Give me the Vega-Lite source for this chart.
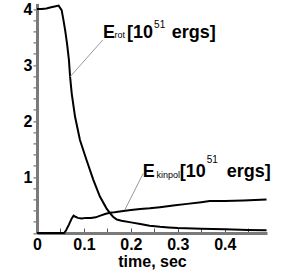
{
  "$schema": "https://vega.github.io/schema/vega-lite/v6.json",
  "width": 230,
  "height": 229.6,
  "autosize": {"type": "none"},
  "padding": {"left": 37, "top": 3.4, "right": 18, "bottom": 38},
  "config": {"view": {"stroke": null}, "font": "Liberation Sans"},
  "datasets": {
    "curves": [
      {"series": "rot", "t": 0, "v": 4.0},
      {"series": "rot", "t": 0.01, "v": 4.0},
      {"series": "rot", "t": 0.02, "v": 4.01},
      {"series": "rot", "t": 0.03, "v": 4.03},
      {"series": "rot", "t": 0.04, "v": 4.05},
      {"series": "rot", "t": 0.046, "v": 4.06},
      {"series": "rot", "t": 0.0525, "v": 3.98},
      {"series": "rot", "t": 0.056, "v": 3.82},
      {"series": "rot", "t": 0.06, "v": 3.62},
      {"series": "rot", "t": 0.064, "v": 3.38},
      {"series": "rot", "t": 0.068, "v": 3.09},
      {"series": "rot", "t": 0.0705, "v": 2.79},
      {"series": "rot", "t": 0.074, "v": 2.49},
      {"series": "rot", "t": 0.081, "v": 2.08},
      {"series": "rot", "t": 0.0915, "v": 1.66},
      {"series": "rot", "t": 0.1057, "v": 1.3},
      {"series": "rot", "t": 0.12, "v": 0.95},
      {"series": "rot", "t": 0.134, "v": 0.65},
      {"series": "rot", "t": 0.148, "v": 0.44},
      {"series": "rot", "t": 0.155, "v": 0.36},
      {"series": "rot", "t": 0.162, "v": 0.29},
      {"series": "rot", "t": 0.17, "v": 0.24},
      {"series": "rot", "t": 0.18, "v": 0.22},
      {"series": "rot", "t": 0.2, "v": 0.19},
      {"series": "rot", "t": 0.22, "v": 0.16},
      {"series": "rot", "t": 0.24, "v": 0.13},
      {"series": "rot", "t": 0.262, "v": 0.11},
      {"series": "rot", "t": 0.28, "v": 0.1},
      {"series": "rot", "t": 0.3, "v": 0.09},
      {"series": "rot", "t": 0.35, "v": 0.075},
      {"series": "rot", "t": 0.4, "v": 0.065},
      {"series": "rot", "t": 0.45, "v": 0.055},
      {"series": "rot", "t": 0.489, "v": 0.05},
      {"series": "kin", "t": 0, "v": 0},
      {"series": "kin", "t": 0.05, "v": 0},
      {"series": "kin", "t": 0.058, "v": 0.0},
      {"series": "kin", "t": 0.062, "v": 0.05},
      {"series": "kin", "t": 0.068, "v": 0.15},
      {"series": "kin", "t": 0.074, "v": 0.26},
      {"series": "kin", "t": 0.078, "v": 0.31},
      {"series": "kin", "t": 0.082, "v": 0.29},
      {"series": "kin", "t": 0.087, "v": 0.27},
      {"series": "kin", "t": 0.095, "v": 0.26},
      {"series": "kin", "t": 0.105, "v": 0.27},
      {"series": "kin", "t": 0.115, "v": 0.27},
      {"series": "kin", "t": 0.125, "v": 0.28},
      {"series": "kin", "t": 0.135, "v": 0.31},
      {"series": "kin", "t": 0.145, "v": 0.34},
      {"series": "kin", "t": 0.155, "v": 0.36},
      {"series": "kin", "t": 0.165, "v": 0.37},
      {"series": "kin", "t": 0.18, "v": 0.39},
      {"series": "kin", "t": 0.2, "v": 0.41},
      {"series": "kin", "t": 0.22, "v": 0.43},
      {"series": "kin", "t": 0.24, "v": 0.44},
      {"series": "kin", "t": 0.262, "v": 0.46},
      {"series": "kin", "t": 0.29, "v": 0.49},
      {"series": "kin", "t": 0.32, "v": 0.52},
      {"series": "kin", "t": 0.35, "v": 0.55},
      {"series": "kin", "t": 0.368, "v": 0.57},
      {"series": "kin", "t": 0.4, "v": 0.57},
      {"series": "kin", "t": 0.44, "v": 0.58},
      {"series": "kin", "t": 0.489, "v": 0.6}
    ],
    "leaders": [
      {"id": "rot", "t": 0.0705, "v": 2.79},
      {"id": "rot", "t": 0.1405, "v": 3.45},
      {"id": "kin", "t": 0.187, "v": 0.41},
      {"id": "kin", "t": 0.226, "v": 1.06}
    ],
    "labels": [
      {"part": "main", "text": "E", "t": 0.1404, "v": 3.477},
      {"part": "sub", "text": "rot", "t": 0.1649, "v": 3.477},
      {"part": "main", "text": "[10", "t": 0.1915, "v": 3.477},
      {"part": "sup", "text": "51", "t": 0.2495, "v": 3.655},
      {"part": "main", "text": "ergs]", "t": 0.2872, "v": 3.477},
      {"part": "main", "text": "E", "t": 0.2255, "v": 1.005},
      {"part": "sub", "text": "kinpol", "t": 0.2547, "v": 0.977},
      {"part": "main", "text": "[10", "t": 0.3043, "v": 1.005},
      {"part": "sup", "text": "51", "t": 0.3617, "v": 1.25},
      {"part": "main", "text": "ergs]", "t": 0.4043, "v": 1.005}
    ]
  },
  "layer": [
    {
      "data": {"name": "curves"},
      "mark": {"type": "line", "color": "black", "strokeWidth": 2},
      "encoding": {
        "x": {
          "field": "t", "type": "quantitative",
          "scale": {"domain": [0, 0.49], "nice": false, "zero": false},
          "axis": {
            "values": [0, 0.05, 0.1, 0.15, 0.2, 0.25, 0.3, 0.35, 0.4, 0.45],
            "tickCount": 100,
            "labelExpr": "indexof([0, 0.1, 0.2, 0.3, 0.4], datum.value) >= 0 ? format(datum.value, '~g') : ''",
            "labelOverlap": false,
            "grid": false,
            "domainColor": "#7a7a7a", "domainWidth": 3,
            "tickColor": "#555555", "tickWidth": 1, "tickSize": -5,
            "labelFont": "Liberation Sans", "labelFontWeight": "bold", "labelFontSize": 16,
            "labelColor": "black", "labelPadding": 8, "labelFlush": false,
            "title": "time, sec", "titleFont": "Liberation Sans", "titleFontWeight": "bold",
            "titleFontSize": 16, "titleColor": "black", "titlePadding": 1
          }
        },
        "y": {
          "field": "v", "type": "quantitative",
          "scale": {"domain": [0, 4.1], "nice": false},
          "axis": {
            "values": [0, 0.2, 0.4, 0.6, 0.8, 1, 1.2, 1.4, 1.6, 1.8, 2, 2.2, 2.4, 2.6, 2.8, 3, 3.2, 3.4, 3.6, 3.8, 4],
            "tickCount": 100,
            "labelExpr": "indexof([1, 2, 3, 4], datum.value) >= 0 ? format(datum.value, 'd') : ''",
            "labelOverlap": false,
            "grid": false,
            "domainColor": "#7a7a7a", "domainWidth": 3,
            "tickColor": "#555555", "tickWidth": 1, "tickSize": 4,
            "labelFont": "Liberation Sans", "labelFontWeight": "bold", "labelFontSize": 16,
            "labelColor": "black", "labelPadding": 1, "labelFlush": false,
            "title": null
          }
        },
        "detail": {"field": "series"}
      }
    },
    {
      "data": {"name": "leaders"},
      "mark": {"type": "line", "color": "#9a9a9a", "strokeWidth": 1},
      "encoding": {
        "x": {"field": "t", "type": "quantitative"},
        "y": {"field": "v", "type": "quantitative"},
        "detail": {"field": "id"}
      }
    },
    {
      "data": {"name": "labels"},
      "transform": [{"filter": "datum.part === 'main'"}],
      "mark": {"type": "text", "align": "left", "baseline": "alphabetic", "font": "Liberation Sans", "fontWeight": "bold", "fontSize": 18, "color": "black"},
      "encoding": {
        "x": {"field": "t", "type": "quantitative"},
        "y": {"field": "v", "type": "quantitative"},
        "text": {"field": "text"}
      }
    },
    {
      "data": {"name": "labels"},
      "transform": [{"filter": "datum.part === 'sub'"}],
      "mark": {"type": "text", "align": "left", "baseline": "alphabetic", "font": "Liberation Sans", "fontSize": 9, "color": "black"},
      "encoding": {
        "x": {"field": "t", "type": "quantitative"},
        "y": {"field": "v", "type": "quantitative"},
        "text": {"field": "text"}
      }
    },
    {
      "data": {"name": "labels"},
      "transform": [{"filter": "datum.part === 'sup'"}],
      "mark": {"type": "text", "align": "left", "baseline": "alphabetic", "font": "Liberation Sans", "fontSize": 10, "color": "black"},
      "encoding": {
        "x": {"field": "t", "type": "quantitative"},
        "y": {"field": "v", "type": "quantitative"},
        "text": {"field": "text"}
      }
    }
  ]
}
